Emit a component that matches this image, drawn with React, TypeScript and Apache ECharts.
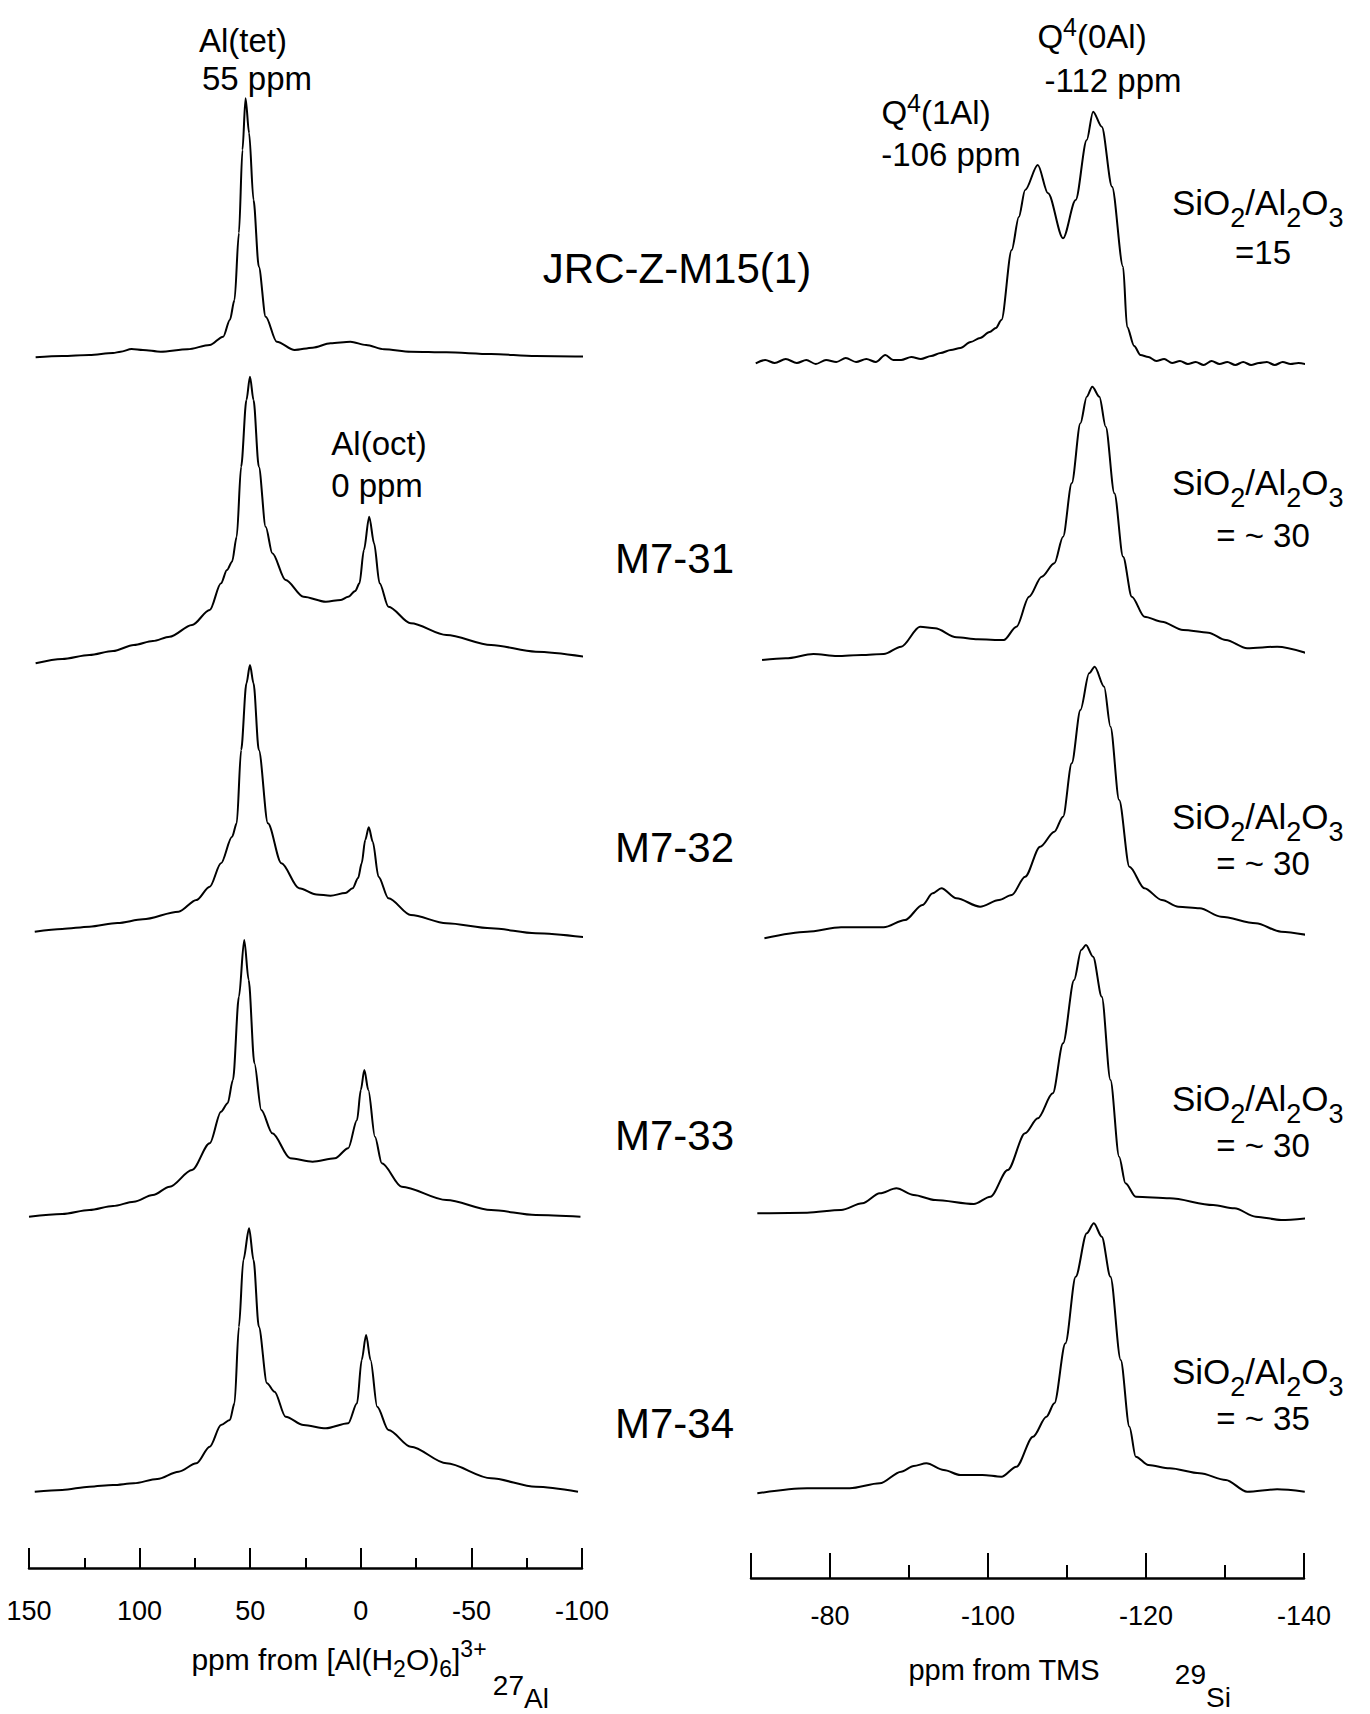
import React, { useEffect, useRef } from "react";
import * as echarts from "echarts";

const FONT = '"Liberation Sans", Arial, Helvetica, sans-serif';

// ---------- 27Al axis (ppm) ----------
const alAxisMin = -100;
const alAxisMax = 150;
const alAxisStep = 50;
// ---------- 29Si axis (ppm) ----------
const siAxisMin = -140;
const siAxisMax = -70;
const siAxisStep = 20;
const siMinorStep = 10;
const siLabelledTicks = [-80, -100, -120, -140];

const sampleNames = ["JRC-Z-M15(1)", "M7-31", "M7-32", "M7-33", "M7-34"];
const ratioValues = ["=15", "= ~ 30", "= ~ 30", "= ~ 30", "= ~ 35"];

// ---------- 27Al spectra: chemical shift (ppm) and intensity (a.u.) ----------
const alM15Ppm = [147.0, 135, 122.7, 112, 108.6, 103.6, 98.5, 90.5, 78.3, 68.3, 62.2, 59.2, 57.1, 55.1, 53.5, 52.1, 50.5, 48.5, 46.1, 43.0, 38.0, 29.9, 21.8, 13.7, 4.7, -2.4, -10.5, -22.6, -38.7, -58.9, -79.1, -102.9];
const alM15Int = [2.7, 4, 5, 7, 8.3, 11, 10, 8.3, 10.7, 15, 23.3, 40, 60, 127, 210, 261.7, 227, 160, 93.3, 43.3, 18.3, 10, 12.3, 16.7, 18.3, 15, 10.7, 8.3, 7.7, 6, 4, 3.3];

const alM731Ppm = [147, 135, 122.7, 112, 102.6, 94, 86.4, 76.3, 68.3, 63.2, 60.5, 58.2, 56.1, 54.1, 51.7, 50.1, 48.5, 46.1, 43.0, 40.0, 34.0, 25.9, 15.8, 9, 5.7, 2.5, 0.6, -1.4, -3.8, -6.0, -8.5, -12.5, -22.6, -38.7, -58.9, -79.1, -101.3];
const alM731Int = [1.7, 6, 10, 14, 20, 24, 28.3, 40, 55, 81.7, 95, 103.3, 128.3, 198.3, 265, 288.3, 265, 198.3, 138.3, 111.7, 85, 68.3, 63.3, 65, 68.3, 74, 81.7, 115, 148.3, 121.7, 81.7, 58.3, 41.7, 30, 20, 13.3, 8.3];

const alM732Ppm = [147.4, 135, 122.7, 110, 98.5, 82.4, 74.3, 68.3, 63.2, 58.2, 56.1, 54.1, 51.7, 50.1, 48.5, 46.1, 42.0, 35.9, 27.9, 20, 13.7, 7, 3.7, 1.2, -0.4, -2.0, -3.6, -5.4, -8.0, -12.5, -22.6, -38.7, -58.9, -79.1, -101.3];
const alM732Int = [8.3, 11, 13.3, 17, 20.7, 28.3, 40, 53.3, 76.7, 103.3, 116.7, 190, 256.7, 275, 256.7, 190, 116.7, 76.7, 51.7, 45.5, 44.3, 47, 51.7, 62, 76.7, 100, 112.7, 98.3, 63.3, 41.7, 25, 16.7, 11.7, 6.7, 2.7];

const alM733Ppm = [150, 135, 122.7, 112, 102.6, 94, 86.4, 76.3, 68.3, 63.2, 60.2, 57.8, 55.1, 52.7, 50.7, 48.1, 45.0, 40.0, 31.9, 21.8, 11.7, 5.7, 1.7, 0.0, -1.6, -3.4, -6.4, -9.5, -18.5, -38.7, -58.9, -79.1, -99.3];
const alM733Int = [3.3, 6, 10, 14, 18.3, 25, 33.3, 50, 76.7, 108.3, 116.7, 140, 223.3, 280, 240, 156.7, 110, 86.7, 61.7, 58.3, 61.7, 71.7, 100, 130, 150, 130, 83.3, 56.7, 33.3, 20, 10, 5, 3.3];

const alM734Ppm = [147.4, 135, 122.7, 112, 102.6, 92, 82.4, 74.3, 68.3, 63.2, 59.2, 57.1, 55.1, 53.1, 50.5, 48.5, 46.1, 42.4, 39.0, 34.0, 25.9, 15.8, 5.7, 1.7, -0.4, -2.4, -4.4, -7.4, -12.5, -22.6, -38.7, -58.9, -79.1, -98.2];
const alM734Int = [3.3, 5, 8.3, 10, 11.7, 16, 23.3, 31.7, 48.3, 70, 75, 91.7, 168.3, 235, 266.7, 235, 168.3, 111.7, 103.3, 78.3, 70, 66.7, 71.7, 91.7, 135, 160, 135, 88.3, 65, 48.3, 31.7, 16.7, 8.3, 3.3];

// ---------- 29Si spectra ----------
const siM15Ppm = [-70.6, -71.8, -73.0, -74.4, -75.8, -77.0, -78.2, -79.5, -80.8, -82.0, -83.3, -84.6, -85.8, -87.0, -88.0, -89.0, -90.3, -91.5, -92.8, -94.0, -95.3, -96.5, -97.8, -99.0, -100.2, -101.0, -101.7, -103.0, -103.9, -104.7, -106.3, -107.6, -109.5, -111.1, -112.5, -113.3, -114.4, -115.7, -117.1, -117.6, -118.5, -119.3, -120.3, -121.3, -122.3, -123.3, -124.3, -125.3, -126.3, -127.3, -128.3, -129.3, -130.3, -131.3, -132.3, -133.3, -134.3, -135.3, -136.3, -137.3, -138.3, -139.3, -140.6];
const siM15Int = [4.7, 8, 5, 9, 5, 8, 4, 8, 6, 10, 6, 9, 6, 13, 8, 8, 11, 9, 12, 15, 18, 20, 26, 30, 36, 40, 48, 118, 151, 178, 203, 174.7, 129.7, 168, 228, 256.3, 241.3, 181.3, 101.3, 41.3, 22, 13, 11, 7, 9, 5, 7, 4, 6, 3, 7, 4, 6, 3, 6, 3, 5, 6, 3, 6, 4, 5, 3];

const siM731Ppm = [-71.4, -74.4, -77.9, -80.9, -84, -86.8, -89.0, -91.4, -93.3, -96.0, -98.7, -102.0, -103.6, -105.2, -106.8, -108.4, -109.5, -110.6, -111.7, -112.5, -113.2, -114.1, -114.9, -116.0, -117.1, -118.2, -119.8, -122.0, -124.7, -127.9, -130.1, -132.8, -136.6, -140.4];
const siM731Int = [2, 3.7, 8, 6, 7, 8, 15.3, 35.3, 33.7, 24.7, 22.7, 22, 35.3, 65.3, 85.3, 98.7, 125.3, 178.7, 238.7, 265.3, 275.3, 265.3, 235.3, 168.7, 105.3, 65.3, 45.3, 40.3, 32, 29.3, 22, 13.7, 15.3, 8.7];

const siM732Ppm = [-71.7, -77.1, -81.4, -86.8, -89.5, -91.7, -93.0, -94.1, -96.0, -99.0, -101.4, -103.0, -104.7, -106.6, -108.4, -109.5, -110.6, -111.7, -112.8, -113.5, -114.7, -115.5, -116.6, -117.9, -119.8, -122.0, -124.1, -126.8, -129.5, -133.9, -137.1, -140.4];
const siM732Int = [1.7, 8.3, 12.7, 12.7, 20, 35, 46.7, 51.7, 41.7, 33.3, 40, 45, 63.3, 93.3, 108.3, 123.3, 176.7, 230, 266.7, 273.3, 253.3, 213.3, 140, 73.3, 51.7, 40, 33.3, 31.7, 23.3, 16.7, 8.3, 5];

const siM733Ppm = [-70.8, -77.1, -81.4, -84.1, -86.3, -88.4, -90.6, -93.3, -98.2, -100.3, -102.5, -104.7, -106.3, -108.2, -109.5, -110.9, -111.8, -112.4, -113.3, -114.4, -115.5, -116.6, -117.4, -118.7, -123.0, -128.5, -131.2, -133.9, -137.1, -140.4];
const siM733Int = [8.7, 9.3, 12, 18.7, 28.7, 33.7, 27, 22, 18, 25.3, 52, 88.7, 103.7, 128.7, 178.7, 242, 272, 277, 265.3, 225.3, 142, 65.3, 38.7, 25.3, 23.7, 17, 13.7, 5.3, 2, 3.7];

const siM734Ppm = [-70.8, -77.1, -82.5, -86.3, -89.0, -90.6, -92.2, -94.4, -96.5, -99.3, -101.7, -103.6, -105.7, -107.4, -108.4, -109.8, -111.1, -112.5, -113.4, -114.4, -115.5, -116.8, -117.9, -118.7, -120.3, -123.0, -126.8, -130.1, -132.8, -136.6, -140.1];
const siM734Int = [1.7, 6.7, 6.7, 11.7, 23.3, 29, 31.7, 25, 20, 20, 18.3, 28.3, 58.3, 78.3, 91.7, 151.7, 218.3, 261.7, 271.7, 258.3, 218.3, 135, 68.3, 38.3, 30, 26.7, 21.7, 15, 3.3, 5.7, 3.3];

const alSpectra = [
  [alM15Ppm, alM15Int],
  [alM731Ppm, alM731Int],
  [alM732Ppm, alM732Int],
  [alM733Ppm, alM733Int],
  [alM734Ppm, alM734Int],
];
const siSpectra = [
  [siM15Ppm, siM15Int],
  [siM731Ppm, siM731Int],
  [siM732Ppm, siM732Int],
  [siM733Ppm, siM733Int],
  [siM734Ppm, siM734Int],
];

// ---------- layout (pixels) ----------
const AL_LEFT = 29;
const AL_RIGHT = 582;
const SI_LEFT = 751;
const SI_RIGHT = 1304;
const GRID_H = 300;
const alBottoms = [360, 665, 940, 1220, 1495];
const siBottoms = [368, 662, 940, 1222, 1495];
const AL_AXIS_Y = 1568;
const SI_AXIS_Y = 1578;
const sampleNameY = [268, 558, 847, 1135, 1423];
const ratioY = [202, 482, 816, 1098, 1371];
const ratioValueY = [252, 535, 863, 1145, 1418];

export default function App() {
  const ref = useRef<HTMLDivElement>(null);

  useEffect(() => {
    const chart = echarts.init(ref.current!, null, { renderer: "svg" });
    const grids: any[] = [];
    const xAxes: any[] = [];
    const yAxes: any[] = [];
    const series: any[] = [];

    const addSpectrum = (ppm: number[], inten: number[], left: number, right: number, bottom: number, min: number, max: number) => {
      const i = grids.length;
      grids.push({ left, width: right - left, top: bottom - GRID_H, height: GRID_H });
      xAxes.push({ type: "value", gridIndex: i, min, max, inverse: true, show: false });
      yAxes.push({ type: "value", gridIndex: i, min: 0, max: GRID_H, show: false });
      series.push({
        type: "line",
        xAxisIndex: i,
        yAxisIndex: i,
        data: ppm.map((p, k) => [p, inten[k]]),
        showSymbol: false,
        symbol: "none",
        clip: false,
        smooth: 0.3,
        smoothMonotone: "x",
        silent: true,
        lineStyle: { color: "#000", width: 2 },
      });
    };

    alSpectra.forEach(([p, v], k) => addSpectrum(p, v, AL_LEFT, AL_RIGHT, alBottoms[k], alAxisMin, alAxisMax));
    siSpectra.forEach(([p, v], k) => addSpectrum(p, v, SI_LEFT, SI_RIGHT, siBottoms[k], siAxisMin, siAxisMax));

    // Al axis grid
    const alG = grids.length;
    grids.push({ left: AL_LEFT, width: AL_RIGHT - AL_LEFT, top: AL_AXIS_Y - 100, height: 100 });
    yAxes.push({ type: "value", gridIndex: alG, min: 0, max: 1, show: false });
    xAxes.push({
      type: "value", gridIndex: alG, min: alAxisMin, max: alAxisMax, interval: alAxisStep, inverse: true,
      position: "bottom",
      axisLine: { show: true, onZero: false, lineStyle: { color: "#000", width: 2.5 } },
      axisTick: { show: true, inside: true, length: 20, lineStyle: { color: "#000", width: 2 } },
      minorTick: { show: true, splitNumber: 2, length: 10, lineStyle: { color: "#000", width: 2 } },
      splitLine: { show: false },
      minorSplitLine: { show: false },
      axisLabel: { show: true, margin: 29, fontSize: 27, fontFamily: FONT, color: "#000" },
    });

    // Si axis grid (major + minor)
    const siG = grids.length;
    grids.push({ left: SI_LEFT, width: SI_RIGHT - SI_LEFT, top: SI_AXIS_Y - 100, height: 100 });
    yAxes.push({ type: "value", gridIndex: siG, min: 0, max: 1, show: false });
    xAxes.push({
      type: "value", gridIndex: siG, min: siAxisMin, max: siAxisMax, interval: siAxisStep, inverse: true,
      position: "bottom",
      axisLine: { show: true, onZero: false, lineStyle: { color: "#000", width: 2.5 } },
      axisTick: { show: true, inside: true, length: 25, lineStyle: { color: "#000", width: 2 } },
      splitLine: { show: false },
      axisLabel: {
        show: true, margin: 24, fontSize: 27, fontFamily: FONT, color: "#000",
        formatter: (v: number) => (siLabelledTicks.includes(Math.round(v)) ? String(Math.round(v)) : ""),
      },
    });
    xAxes.push({
      type: "value", gridIndex: siG, min: siAxisMin, max: siAxisMax, interval: siMinorStep, inverse: true,
      position: "bottom",
      axisLine: { show: false, onZero: false },
      axisTick: { show: true, inside: true, length: 13, lineStyle: { color: "#000", width: 2 } },
      splitLine: { show: false },
      axisLabel: { show: false },
    });

    const txt = (text: string, x: number, y: number, size: number, align = "center") => ({
      type: "text", x, y, silent: true, z: 10,
      style: {
        text, fontSize: size, fontFamily: FONT, fill: "#000",
        align, verticalAlign: "middle", textAlign: align, textVerticalAlign: "middle",
      },
    });
    const rich = (text: string, x: number, y: number, richStyles: any, align = "center") => ({
      type: "text", x, y, silent: true, z: 10,
      style: {
        text, fontFamily: FONT, fill: "#000", rich: richStyles,
        align, verticalAlign: "middle", textAlign: align, textVerticalAlign: "middle",
      },
    });

    const ratioRich = {
      m: { fontSize: 35, fontFamily: FONT, fill: "#000" },
      s: { fontSize: 27, fontFamily: FONT, fill: "#000", verticalAlign: "bottom", padding: [32, 0, 0, 0] },
    };
    const qRich = {
      m: { fontSize: 33, fontFamily: FONT, fill: "#000" },
      p: { fontSize: 25, fontFamily: FONT, fill: "#000", verticalAlign: "top", padding: [0, 0, 18, 0] },
    };
    const axRich = {
      m: { fontSize: 30, fontFamily: FONT, fill: "#000" },
      s: { fontSize: 23, fontFamily: FONT, fill: "#000", verticalAlign: "bottom", padding: [20, 0, 0, 0] },
      p: { fontSize: 23, fontFamily: FONT, fill: "#000", verticalAlign: "top", padding: [0, 0, 20, 0] },
    };

    const graphics: any[] = [
      txt("Al(tet)", 243, 40, 33),
      txt("55 ppm", 257, 78, 33),
      txt("Al(oct)", 379, 443, 33),
      txt("0 ppm", 377, 485, 33),
      rich("{m|Q}{p|4}{m|(0Al)}", 1092, 36, qRich),
      txt("-112 ppm", 1113, 80, 33),
      rich("{m|Q}{p|4}{m|(1Al)}", 936, 112, qRich),
      txt("-106 ppm", 951, 154, 33),
      rich("{m|ppm from [Al(H}{s|2}{m|O)}{s|6}{m|]}{p|3+}", 339, 1659, axRich),
      txt("27", 524, 1685, 28, "right"),
      txt("Al", 524, 1698, 28, "left"),
      txt("ppm from TMS", 1004, 1670, 29),
      txt("29", 1206, 1674, 28, "right"),
      txt("Si", 1206, 1697, 28, "left"),
    ];
    sampleNames.forEach((name, k) => {
      graphics.push(txt(name, k === 0 ? 677 : 615, sampleNameY[k], 42, k === 0 ? "center" : "left"));
    });
    ratioValues.forEach((val, k) => {
      graphics.push(rich("{m|SiO}{s|2}{m|/Al}{s|2}{m|O}{s|3}", 1172, ratioY[k], ratioRich, "left"));
      graphics.push(txt(val, 1263, ratioValueY[k], 33));
    });

    chart.setOption({
      animation: false,
      backgroundColor: "#fff",
      grid: grids,
      xAxis: xAxes,
      yAxis: yAxes,
      series,
      graphic: { elements: graphics },
    });
    return () => chart.dispose();
  }, []);

  return <div ref={ref} style={{ position: "absolute", left: 0, top: 0, width: 1370, height: 1714 }} />;
}
